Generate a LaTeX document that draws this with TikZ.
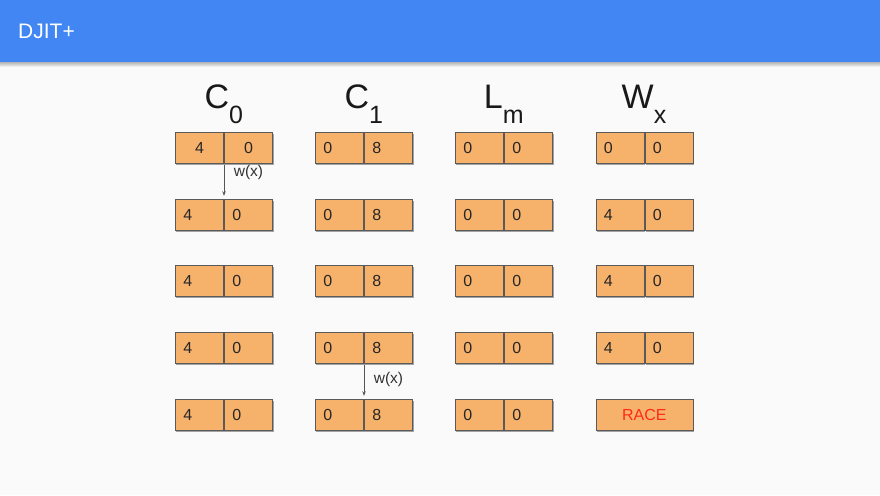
\documentclass[tikz,border=0pt]{standalone}
\usepackage{fontspec}
\setmainfont{Liberation Sans}
\usetikzlibrary{shadows,arrows.meta}
\definecolor{hdrblue}{HTML}{4286F4}
\definecolor{bgc}{HTML}{FAFAFA}
\definecolor{cellfill}{HTML}{F6B26B}
\definecolor{celldraw}{HTML}{5A5A5A}
\definecolor{arrowc}{HTML}{555555}
\definecolor{racered}{HTML}{FF2A1A}
\tikzset{
  cell/.style={draw=celldraw, line width=0.8pt, fill=cellfill, minimum height=31pt,
    text width=32.2pt, inner xsep=8pt, inner ysep=0pt, align=left,
    font=\fontsize{16}{16}\selectfont, text=black!85,
    drop shadow={shadow xshift=1pt, shadow yshift=-1.5pt, opacity=0.35, fill=black}},
  ccell/.style={cell, align=center},
  wide/.style={draw=celldraw, line width=0.8pt, fill=cellfill, minimum height=31pt,
    minimum width=97pt, inner sep=0pt, font=\fontsize{16}{16}\selectfont, text=racered,
    drop shadow={shadow xshift=1pt, shadow yshift=-1.5pt, opacity=0.35, fill=black}},
  ttl/.style={font=\fontsize{34}{34}\selectfont, text=black!90, inner sep=0pt, anchor=base},
  wlbl/.style={font=\fontsize{15.5}{15.5}\selectfont, text=black!80, inner sep=0pt},
  warrow/.style={draw=arrowc, line width=0.7pt, -{Stealth[length=4.5pt,width=3.5pt]}}
}
\newcommand{\subsc}[1]{\raisebox{-15pt}{\fontsize{25}{25}\selectfont #1}}
\begin{document}
\begin{tikzpicture}[x=1pt,y=-1pt]
\useasboundingbox (0,0) rectangle (880,495);
\fill[bgc] (0,0) rectangle (880,495);
% header shadow
\shade[top color=black!30, bottom color=bgc] (0,62) rectangle (880,67);
\fill[hdrblue] (0,0) rectangle (880,62.5);
\node[anchor=base west, inner sep=0pt, text=white, font=\fontsize{21}{21}\selectfont] (hdr) at (18,38) {DJIT+};
% titles
\node[ttl] (t0) at (223.75,108) {C\subsc{0}};
\node[ttl] (t1) at (363.75,108) {C\subsc{1}};
\node[ttl] (t2) at (503.75,108) {L\subsc{m}};
\node[ttl] (t3) at (644,108) {W\subsc{x}};
% columns: left x of boxes
\def\xa{175}\def\xb{315}\def\xc{455}\def\xd{595.5}
% row 1
\node[ccell, anchor=west] (a1l) at (\xa,148) {4};
\node[ccell, anchor=west] (a1r) at (a1l.east) {0};
\node[cell, anchor=west] (b1l) at (\xb,148) {0};
\node[cell, anchor=west] (b1r) at (b1l.east) {8};
\node[cell, anchor=west] (c1l) at (\xc,148) {0};
\node[cell, anchor=west] (c1r) at (c1l.east) {0};
\node[cell, anchor=west] (d1l) at (\xd,148) {0};
\node[cell, anchor=west] (d1r) at (d1l.east) {0};
% row 2
\node[cell, anchor=west] (a2l) at (\xa,214.7) {4};
\node[cell, anchor=west] (a2r) at (a2l.east) {0};
\node[cell, anchor=west] (b2l) at (\xb,214.7) {0};
\node[cell, anchor=west] (b2r) at (b2l.east) {8};
\node[cell, anchor=west] (c2l) at (\xc,214.7) {0};
\node[cell, anchor=west] (c2r) at (c2l.east) {0};
\node[cell, anchor=west] (d2l) at (\xd,214.7) {4};
\node[cell, anchor=west] (d2r) at (d2l.east) {0};
% row 3
\node[cell, anchor=west] (a3l) at (\xa,281.3) {4};
\node[cell, anchor=west] (a3r) at (a3l.east) {0};
\node[cell, anchor=west] (b3l) at (\xb,281.3) {0};
\node[cell, anchor=west] (b3r) at (b3l.east) {8};
\node[cell, anchor=west] (c3l) at (\xc,281.3) {0};
\node[cell, anchor=west] (c3r) at (c3l.east) {0};
\node[cell, anchor=west] (d3l) at (\xd,281.3) {4};
\node[cell, anchor=west] (d3r) at (d3l.east) {0};
% row 4
\node[cell, anchor=west] (a4l) at (\xa,348) {4};
\node[cell, anchor=west] (a4r) at (a4l.east) {0};
\node[cell, anchor=west] (b4l) at (\xb,348) {0};
\node[cell, anchor=west] (b4r) at (b4l.east) {8};
\node[cell, anchor=west] (c4l) at (\xc,348) {0};
\node[cell, anchor=west] (c4r) at (c4l.east) {0};
\node[cell, anchor=west] (d4l) at (\xd,348) {4};
\node[cell, anchor=west] (d4r) at (d4l.east) {0};
% row 5
\node[cell, anchor=west] (a5l) at (\xa,414.7) {4};
\node[cell, anchor=west] (a5r) at (a5l.east) {0};
\node[cell, anchor=west] (b5l) at (\xb,414.7) {0};
\node[cell, anchor=west] (b5r) at (b5l.east) {8};
\node[cell, anchor=west] (c5l) at (\xc,414.7) {0};
\node[cell, anchor=west] (c5r) at (c5l.east) {0};
\node[wide, anchor=west] (d5) at (\xd,414.7) {RACE};
% arrows
\draw[warrow] ([yshift=-1pt]a1l.south east) -- ([yshift=3pt]a2l.north east);
\node[wlbl] (w1) at (248.5,172) {w(x)};
\draw[warrow] ([yshift=-1pt]b4l.south east) -- ([yshift=3pt]b5l.north east);
\node[wlbl] (w2) at (388.5,379.5) {w(x)};
\end{tikzpicture}
\end{document}
